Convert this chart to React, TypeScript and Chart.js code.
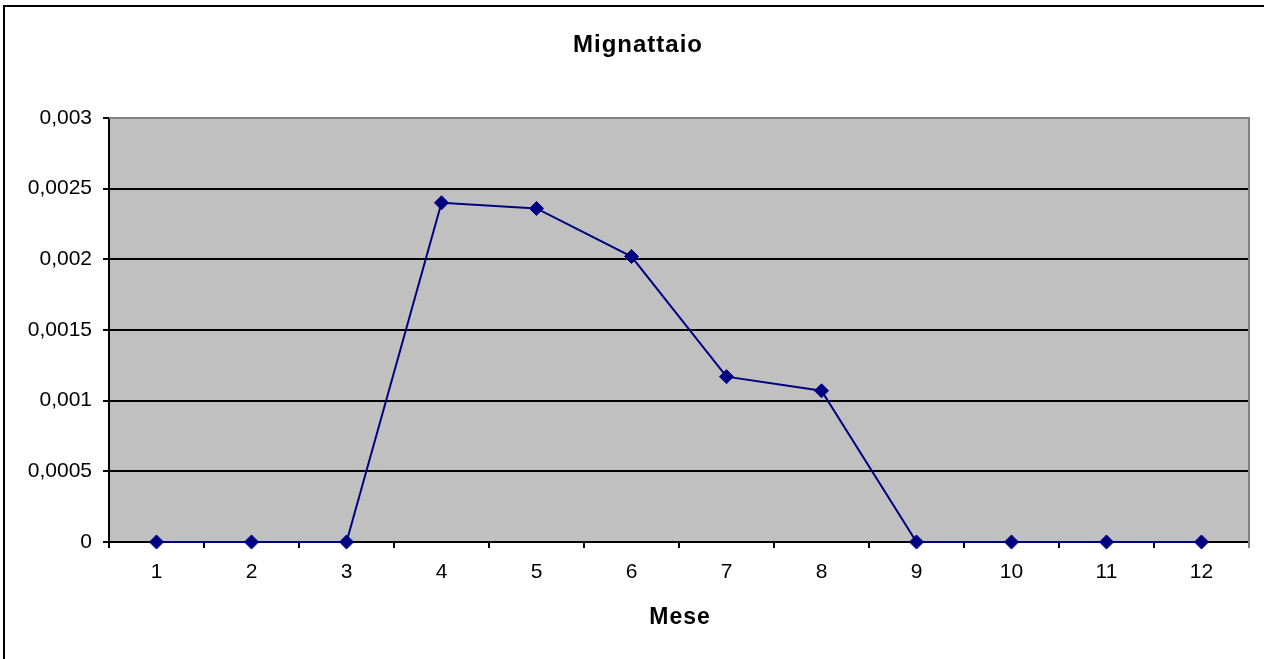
import React, { useEffect, useRef } from "react";
import { Chart, registerables } from "chart.js";

Chart.register(...registerables);

const chartTitle = "Mignattaio";
const xAxisTitle = "Mese";
const months = ["1", "2", "3", "4", "5", "6", "7", "8", "9", "10", "11", "12"];
const values = [0, 0, 0, 0.0024, 0.00236, 0.00202, 0.00117, 0.00107, 0, 0, 0, 0];
const yMin = 0;
const yMax = 0.003;
const yStep = 0.0005;

const FONT = "'Liberation Sans', Arial, sans-serif";

const decorPlugin = {
  id: "decor",
  beforeDraw(chart: any) {
    const { ctx, chartArea } = chart;
    ctx.save();
    ctx.fillStyle = "#ffffff";
    ctx.fillRect(0, 0, chart.width, chart.height);
    ctx.fillStyle = "#C0C0C0";
    ctx.fillRect(chartArea.left, chartArea.top, chartArea.right - chartArea.left, chartArea.bottom - chartArea.top);
    ctx.strokeStyle = "#000000";
    ctx.lineWidth = 2;
    ctx.strokeRect(4, 6, chart.width + 50, chart.height + 50);
    ctx.restore();
  },
  beforeDatasetsDraw(chart: any) {
    const { ctx, chartArea } = chart;
    ctx.save();
    ctx.strokeStyle = "#808080";
    ctx.lineWidth = 2;
    ctx.beginPath();
    ctx.moveTo(chartArea.left, chartArea.top);
    ctx.lineTo(chartArea.right, chartArea.top);
    ctx.lineTo(chartArea.right, chartArea.bottom + 6);
    ctx.stroke();
    ctx.restore();
  },
  afterDraw(chart: any) {
    const { ctx, chartArea } = chart;
    ctx.save();
    ctx.fillStyle = "#000000";
    ctx.textAlign = "center";
    ctx.textBaseline = "alphabetic";
    ctx.font = `bold 24px ${FONT}`;
    try { (ctx as any).letterSpacing = "1px"; } catch (e) {}
    ctx.fillText(chartTitle, 638, 52);
    ctx.font = `bold 23px ${FONT}`;
    ctx.fillText(xAxisTitle, (chartArea.left + chartArea.right) / 2 + 1, 624);
    ctx.restore();
  },
};

export default function App() {
  const ref = useRef<HTMLCanvasElement | null>(null);
  useEffect(() => {
    if (!ref.current) return;
    const chart = new Chart(ref.current, {
      type: "line",
      data: {
        labels: months,
        datasets: [
          {
            data: values,
            borderColor: "#000080",
            backgroundColor: "#000080",
            borderWidth: 2,
            pointStyle: "rectRot",
            pointRadius: 7,
            pointBorderWidth: 1,
            pointBackgroundColor: "#000080",
            pointBorderColor: "#000080",
            tension: 0,
            clip: false as any,
          },
        ],
      },
      options: {
        responsive: false,
        animation: false,
        layout: { padding: { top: 118, right: 15, left: 0, bottom: 0 } },
        plugins: {
          legend: { display: false },
          title: { display: false },
          tooltip: { enabled: false },
        },
        scales: {
          x: {
            type: "category",
            offset: true,
            afterFit(scale: any) {
              scale.height = 117;
            },
            grid: {
              offset: true,
              drawOnChartArea: false,
              drawTicks: true,
              tickLength: 6,
              color: "#000000",
              lineWidth: 2,
            },
            border: { color: "#000000", width: 2 },
            ticks: {
              color: "#000000",
              font: { family: FONT, size: 21 },
              padding: 12,
              maxRotation: 0,
            },
          },
          y: {
            min: yMin,
            max: yMax,
            afterFit(scale: any) {
              scale.width = 109;
            },
            grid: {
              color: (c: any) => (c.tick && Math.abs(c.tick.value - yMax) < 1e-9 ? "#808080" : "#000000"),
              lineWidth: 2,
              drawTicks: true,
              tickLength: 6,
              tickColor: "#000000",
            },
            border: { color: "#000000", width: 2 },
            ticks: {
              stepSize: yStep,
              color: "#000000",
              font: { family: FONT, size: 21 },
              padding: 11,
              callback: (v: any) => parseFloat(Number(v).toFixed(4)).toString().replace(".", ","),
            },
          },
        },
      },
      plugins: [decorPlugin],
    });
    return () => chart.destroy();
  }, []);
  return (
    <div style={{ position: "fixed", left: 0, top: 0, width: 1264, height: 659 }}>
      <canvas ref={ref} width={1264} height={659} />
    </div>
  );
}
